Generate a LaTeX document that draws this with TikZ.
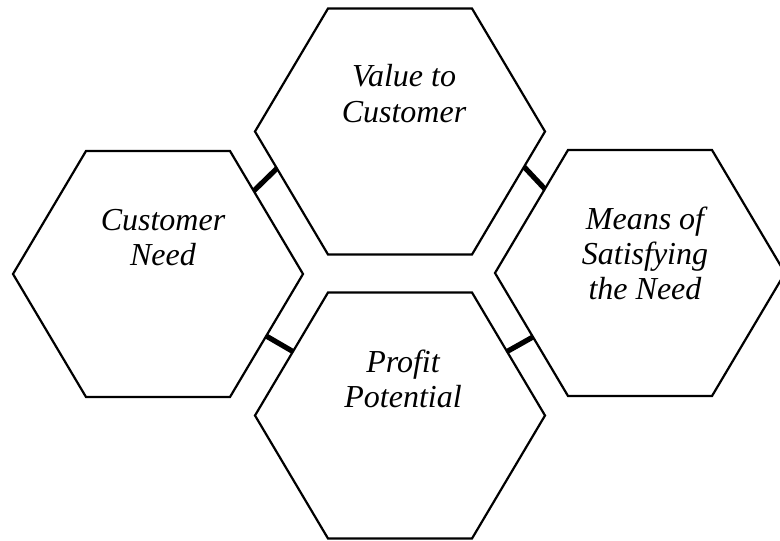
\documentclass[tikz,border=0pt]{standalone}
\usepackage{fontspec}
\setmainfont{Liberation Serif}
\usetikzlibrary{calc}

\tikzset{
  hexline/.style={draw=black, line width=1.1pt, line join=miter},
  link/.style={draw=black, line width=2.6pt, line cap=butt},
  % captions are placed by the baseline of their last line
  hextext/.style={align=center, inner sep=0pt, anchor=base,
    font=\itshape\fontsize{16}{17.5}\selectfont},
}

% A flat-topped hexagon: #1 name, (#2,#3) centre
\newcommand\hexcell[3]{%
  \coordinate (#1-tl) at (#2-72,#3-123);
  \coordinate (#1-tr) at (#2+72,#3-123);
  \coordinate (#1-r)  at (#2+145,#3);
  \coordinate (#1-br) at (#2+72,#3+123);
  \coordinate (#1-bl) at (#2-72,#3+123);
  \coordinate (#1-l)  at (#2-145,#3);
  \draw[hexline] (#1-tl) -- (#1-tr) -- (#1-r) -- (#1-br) -- (#1-bl) -- (#1-l) -- cycle;
}

\begin{document}
\begin{tikzpicture}[x=0.5pt, y=-0.5pt]
  \useasboundingbox (0,0) rectangle (780,540);
  \fill[white] (0,0) rectangle (780,540);

  % the four cells
  \hexcell{T}{400}{131.5}
  \hexcell{L}{158}{274}
  \hexcell{R}{640}{273}
  \hexcell{B}{400}{415.5}

  % captions
  \node[hextext] (value)  at (404,122) {Value to\\Customer};
  \node[hextext] (need)   at (163,265) {Customer\\Need};
  \node[hextext] (means)  at (645,299) {Means of\\Satisfying\\the Need};
  \node[hextext] (profit) at (403,407) {Profit\\Potential};

  % short links bridging the gaps between neighbouring cells
  \draw[link] ($(L-tr)!0.325!(L-r)$) -- ($(T-l)!0.30!(T-bl)$);
  \draw[link] ($(T-r)!0.287!(T-br)$) -- ($(R-tl)!0.317!(R-l)$);
  \draw[link] ($(L-r)!0.504!(L-br)$) -- ($(B-tl)!0.48!(B-l)$);
  \draw[link] ($(B-tr)!0.48!(B-r)$) -- ($(R-l)!0.52!(R-bl)$);
\end{tikzpicture}
\end{document}
